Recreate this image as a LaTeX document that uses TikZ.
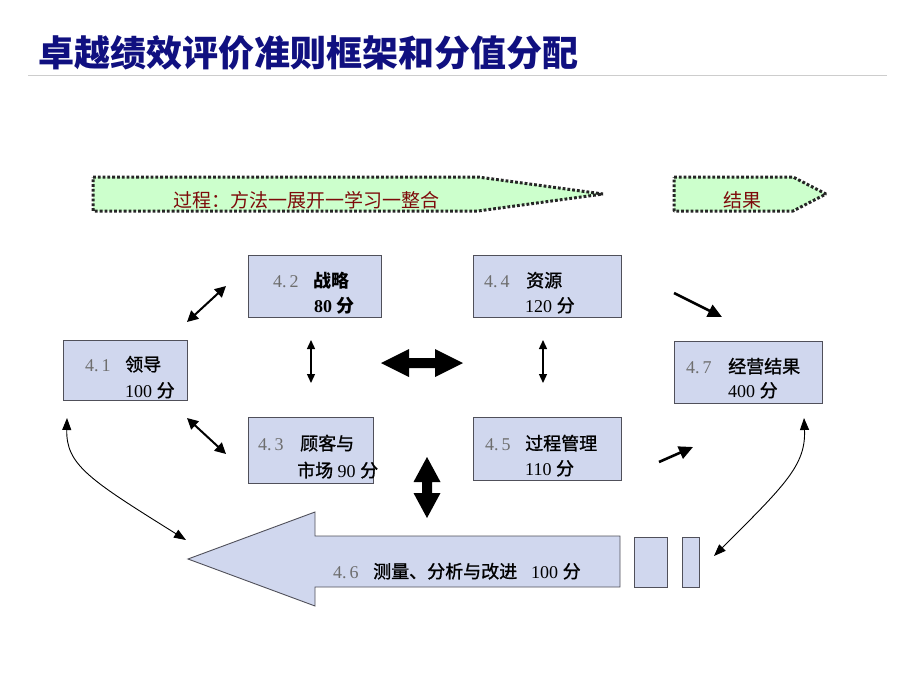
\documentclass[tikz,border=0pt]{standalone}
\usepackage{fontspec}
\setmainfont{Liberation Serif}
\newfontfamily\cjk{Noto Sans CJK SC}
\newfontfamily\cjkh{Noto Sans CJK SC}[FakeBold=1.2]
\usetikzlibrary{arrows.meta}
\definecolor{titleblue}{RGB}{16,16,128}
\definecolor{boxfill}{RGB}{208,215,238}
\definecolor{boxline}{RGB}{80,80,90}
\definecolor{greenfill}{RGB}{204,255,204}
\definecolor{darkred}{RGB}{125,10,10}
\definecolor{numgray}{RGB}{110,110,110}
\definecolor{rulegray}{RGB}{205,205,205}
\newcommand{\numg}[1]{{\color{numgray}#1}}
\tikzset{
  box/.style={draw=boxline, fill=boxfill, line width=0.9pt, inner sep=0pt},
  bigshape/.style={draw=boxline, fill=boxfill, line width=0.9pt},
  procshape/.style={draw=black!85, fill=greenfill, line width=3pt, line join=bevel, dash pattern=on 2.8pt off 2pt},
  txt/.style={anchor=base west, inner sep=0pt, font=\fontsize{18}{20}\selectfont},
  ptxt/.style={anchor=west, inner sep=0pt, text=darkred, font=\cjk\fontsize{19}{21}\selectfont},
  thinarr/.style={{Triangle[length=9pt,width=8pt]}-{Triangle[length=9pt,width=8pt]}, line width=1.3pt},
  diagarr/.style={{Triangle[length=11pt,width=11pt]}-{Triangle[length=11pt,width=11pt]}, line width=2pt},
  curvearr/.style={{Triangle[length=12pt,width=9pt]}-{Triangle[length=12pt,width=9pt]}, line width=0.9pt},
  onearr/.style={-{Triangle[length=14pt,width=13pt]}, line width=2.6pt},
  solidblack/.style={fill=black, draw=none}
}
\begin{document}
\begin{tikzpicture}[x=1pt,y=-1pt]
\useasboundingbox (0,0) rectangle (920,690);
\fill[white] (0,0) rectangle (920,690);

% title
\node[anchor=west, inner sep=0pt, text=titleblue, font=\cjk\bfseries\fontsize{36}{40}\selectfont] (title) at (38,53) {卓越绩效评价准则框架和分值分配};
\coordinate (ruleL) at (28,76);
\coordinate (ruleR) at (887,76);
\draw[rulegray, line width=1pt] (ruleL) -- (ruleR);

% process arrows
\draw[procshape] (93,177) -- (478,177) -- (603,194) -- (478,211) -- (93,211) -- cycle;
\node[ptxt] (proc) at (173,200) {过程：方法一展开一学习一整合};
\draw[procshape] (674,177) -- (793,177) -- (826,194) -- (793,211) -- (674,211) -- cycle;
\node[ptxt] (res) at (723,200) {结果};

% boxes
\node[box, minimum width=124pt, minimum height=60pt] (b41) at (125,370) {};
\node[box, minimum width=133pt, minimum height=62pt] (b42) at (314.5,286) {};
\node[box, minimum width=125pt, minimum height=66pt] (b43) at (310.5,450) {};
\node[box, minimum width=148pt, minimum height=62pt] (b44) at (547,286) {};
\node[box, minimum width=148pt, minimum height=63pt] (b45) at (547,448.5) {};
\node[box, minimum width=148pt, minimum height=62pt] (b47) at (748,372) {};

% box texts
\node[txt] (t41a) at (85,371) {\makebox[40pt][l]{\numg{4.\,1}}{\cjkh 领导}};
\node[txt] (t41b) at (125,397) {100 {\cjkh 分}};
\node[txt] (t42a) at (273,287) {\makebox[40pt][l]{\numg{4.\,2}}{\cjk\bfseries 战略}};
\node[txt] (t42b) at (314,312) {\textbf{80} {\cjk\bfseries 分}};
\node[txt] (t43a) at (258,450) {\makebox[42pt][l]{\numg{4.\,3}}{\cjkh 顾客与}};
\node[txt] (t43b) at (297,477) {{\cjkh 市场} 90 {\cjkh 分}};
\node[txt] (t44a) at (484,287) {\makebox[42pt][l]{\numg{4.\,4}}{\cjkh 资源}};
\node[txt] (t44b) at (525,312) {120 {\cjkh 分}};
\node[txt] (t45a) at (485,450) {\makebox[40pt][l]{\numg{4.\,5}}{\cjkh 过程管理}};
\node[txt] (t45b) at (525,475) {110 {\cjkh 分}};
\node[txt] (t47a) at (686,373) {\makebox[42pt][l]{\numg{4.\,7}}{\cjkh 经营结果}};
\node[txt] (t47b) at (728,397) {400 {\cjkh 分}};

% big arrow 4.6
\draw[bigshape] (188,559) -- (315,512) -- (315,536) -- (620,536) -- (620,587) -- (315,587) -- (315,606) -- cycle;
\node[box, minimum width=33pt, minimum height=50pt] (r1) at (650.5,562) {};
\node[box, minimum width=17pt, minimum height=50pt] (r2) at (690.5,562) {};
\node[txt] (t46) at (333,578) {\makebox[40pt][l]{\numg{4.\,6}}{\cjkh 测量、分析与改进}\hspace{14pt}100 {\cjkh 分}};

% arrow endpoints
\coordinate (d1a) at (187,322); \coordinate (d1b) at (226,286);
\coordinate (d2a) at (187,418); \coordinate (d2b) at (226,454);
\coordinate (v1a) at (311,340); \coordinate (v1b) at (311,383);
\coordinate (v2a) at (543,340); \coordinate (v2b) at (543,383);
\coordinate (c1a) at (67,418);  \coordinate (c1b) at (186,540);
\coordinate (c2a) at (804,418); \coordinate (c2b) at (714,556);
\coordinate (o1a) at (674,293); \coordinate (o1b) at (722,317);
\coordinate (o2a) at (659,462); \coordinate (o2b) at (693,447);

\draw[diagarr] (d1a) -- (d1b);
\draw[diagarr] (d2a) -- (d2b);
\draw[thinarr] (v1a) -- (v1b);
\draw[thinarr] (v2a) -- (v2b);
\draw[curvearr] (c1a) .. controls (66,465) and (90,480) .. (c1b);
\draw[curvearr] (c2a) .. controls (806,465) and (785,485) .. (c2b);
\draw[onearr] (o1a) -- (o1b);
\draw[onearr] (o2a) -- (o2b);

% big horizontal double arrow
\fill[solidblack] (381,363) -- (409,349) -- (409,358) -- (435,358) -- (435,349) -- (463,363) -- (435,377) -- (435,368) -- (409,368) -- (409,377) -- cycle;
% big vertical double arrow
\fill[solidblack] (427,457) -- (440.5,482) -- (432,482) -- (432,493) -- (440.5,493) -- (427,518) -- (413.5,493) -- (422,493) -- (422,482) -- (413.5,482) -- cycle;
\end{tikzpicture}
\end{document}
